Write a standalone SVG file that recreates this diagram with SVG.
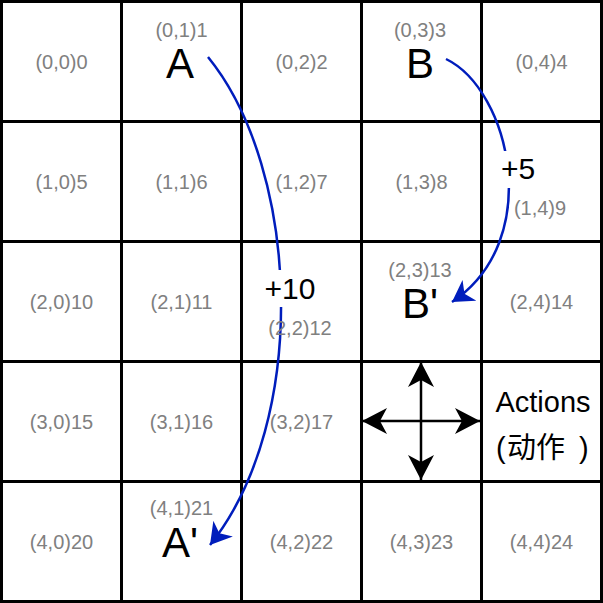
<svg xmlns="http://www.w3.org/2000/svg" width="603" height="603" viewBox="0 0 603 603">
<defs>
<style>
.cell{fill:#ffffff;stroke:#000000;stroke-width:3}
.lbl{font-family:"Liberation Sans",Arial,sans-serif;font-size:20px;fill:#808080;text-anchor:middle}
.big{font-family:"Liberation Sans",Arial,sans-serif;font-size:42px;fill:#000000;text-anchor:middle}
.rew{font-family:"Liberation Sans",Arial,sans-serif;font-size:30px;fill:#000000;text-anchor:middle}
.act{font-family:"Liberation Sans","Noto Sans CJK SC",sans-serif;font-size:29px;fill:#000000}
.blue{fill:none;stroke:#001DBC;stroke-width:2.5;marker-end:url(#hb)}
.blk{fill:none;stroke:#000000;stroke-width:2.5;marker-end:url(#hk)}
</style>
<marker id="hb" markerUnits="userSpaceOnUse" markerWidth="23" markerHeight="25" viewBox="0 0 23 25" refX="21" refY="12.5" orient="auto">
<path d="M21 12.5 L0 0 L6 12.5 L0 25 Z" fill="#001DBC"/>
</marker>
<marker id="hk" markerUnits="userSpaceOnUse" markerWidth="26" markerHeight="26" viewBox="0 0 26 26" refX="25" refY="13" orient="auto">
<path d="M25 13 L0 0 L7 13 L0 26 Z" fill="#000000"/>
</marker>
</defs>
<g id="grid">
<g id="c0"><rect class="cell" x="1.5" y="1.5" width="120" height="120"/><text class="lbl" x="61.5" y="68.5">(0,0)0</text></g>
<g id="c1"><rect class="cell" x="121.5" y="1.5" width="120" height="120"/><text class="lbl" x="181.5" y="36.5">(0,1)1</text><text class="big" x="180" y="78">A</text></g>
<g id="c2"><rect class="cell" x="241.5" y="1.5" width="120" height="120"/><text class="lbl" x="301.5" y="68.5">(0,2)2</text></g>
<g id="c3"><rect class="cell" x="361.5" y="1.5" width="120" height="120"/><text class="lbl" x="420" y="36.5">(0,3)3</text><text class="big" x="420" y="78">B</text></g>
<g id="c4"><rect class="cell" x="481.5" y="1.5" width="120" height="120"/><text class="lbl" x="541.5" y="68.5">(0,4)4</text></g>
<g id="c5"><rect class="cell" x="1.5" y="121.5" width="120" height="120"/><text class="lbl" x="61.5" y="188.5">(1,0)5</text></g>
<g id="c6"><rect class="cell" x="121.5" y="121.5" width="120" height="120"/><text class="lbl" x="181.5" y="188.5">(1,1)6</text></g>
<g id="c7"><rect class="cell" x="241.5" y="121.5" width="120" height="120"/><text class="lbl" x="301.5" y="188.5">(1,2)7</text></g>
<g id="c8"><rect class="cell" x="361.5" y="121.5" width="120" height="120"/><text class="lbl" x="421.5" y="188.5">(1,3)8</text></g>
<g id="c9"><rect class="cell" x="481.5" y="121.5" width="120" height="120"/></g>
<g id="c10"><rect class="cell" x="1.5" y="241.5" width="120" height="120"/><text class="lbl" x="61.5" y="308.5">(2,0)10</text></g>
<g id="c11"><rect class="cell" x="121.5" y="241.5" width="120" height="120"/><text class="lbl" x="181.5" y="308.5">(2,1)11</text></g>
<g id="c12"><rect class="cell" x="241.5" y="241.5" width="120" height="120"/></g>
<g id="c13"><rect class="cell" x="361.5" y="241.5" width="120" height="120"/><text class="lbl" x="420" y="276.5">(2,3)13</text><text class="big" x="420" y="318">B'</text></g>
<g id="c14"><rect class="cell" x="481.5" y="241.5" width="120" height="120"/><text class="lbl" x="541.5" y="308.5">(2,4)14</text></g>
<g id="c15"><rect class="cell" x="1.5" y="361.5" width="120" height="120"/><text class="lbl" x="61.5" y="428.5">(3,0)15</text></g>
<g id="c16"><rect class="cell" x="121.5" y="361.5" width="120" height="120"/><text class="lbl" x="181.5" y="428.5">(3,1)16</text></g>
<g id="c17"><rect class="cell" x="241.5" y="361.5" width="120" height="120"/><text class="lbl" x="301.5" y="428.5">(3,2)17</text></g>
<g id="c18"><rect class="cell" x="361.5" y="361.5" width="120" height="120"/></g>
<g id="c19"><rect class="cell" x="481.5" y="361.5" width="120" height="120"/><text class="act" x="543" y="412" text-anchor="middle">Actions</text><text class="act" y="458"><tspan x="496">(</tspan><tspan x="507">动作</tspan><tspan x="579">)</tspan></text></g>
<g id="c20"><rect class="cell" x="1.5" y="481.5" width="120" height="120"/><text class="lbl" x="61.5" y="548.5">(4,0)20</text></g>
<g id="c21"><rect class="cell" x="121.5" y="481.5" width="120" height="120"/><text class="lbl" x="181.5" y="515">(4,1)21</text><text class="big" x="180" y="557">A'</text></g>
<g id="c22"><rect class="cell" x="241.5" y="481.5" width="120" height="120"/><text class="lbl" x="301.5" y="548.5">(4,2)22</text></g>
<g id="c23"><rect class="cell" x="361.5" y="481.5" width="120" height="120"/><text class="lbl" x="421.5" y="548.5">(4,3)23</text></g>
<g id="c24"><rect class="cell" x="481.5" y="481.5" width="120" height="120"/><text class="lbl" x="541.5" y="548.5">(4,4)24</text></g>
</g>
<g id="connectors">
<path id="eA" class="blue" d="M208 57 C300 170 310 420 210 545"/>
<path id="eB" class="blue" d="M446 59 C510 90 545 240 452 302"/>
<line class="blk" x1="421" y1="421" x2="421" y2="362"/>
<line class="blk" x1="421" y1="421" x2="421" y2="480"/>
<line class="blk" x1="421" y1="421" x2="362" y2="421"/>
<line class="blk" x1="421" y1="421" x2="480" y2="421"/>
<rect x="496" y="151" width="44" height="37" fill="#ffffff"/>
<text class="rew" x="518" y="179">+5</text>
<rect x="260" y="270" width="60" height="37" fill="#ffffff"/>
<text class="rew" x="290" y="299">+10</text>
</g>
<g id="extra-labels">
<text class="lbl" x="540" y="215">(1,4)9</text>
<text class="lbl" x="300" y="335">(2,2)12</text>
</g>
</svg>
